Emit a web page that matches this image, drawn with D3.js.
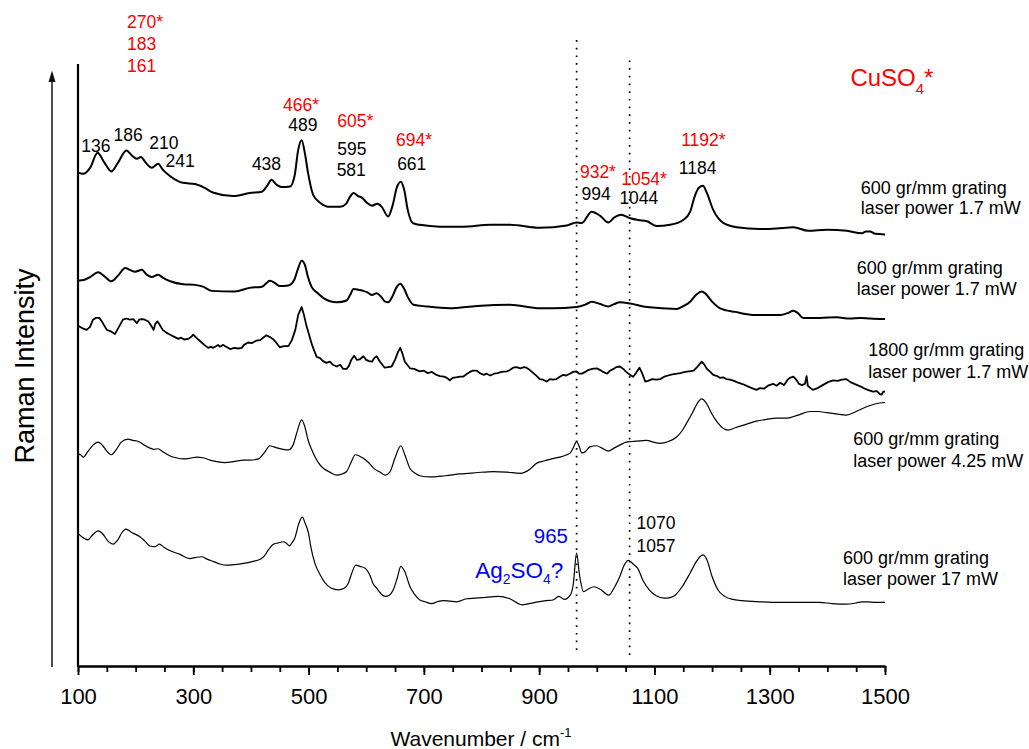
<!DOCTYPE html>
<html>
<head>
<meta charset="utf-8">
<script src="https://cdn.jsdelivr.net/npm/d3@7"></script>
<style>
  html, body { margin: 0; padding: 0; background: #fff; }
  svg { display: block; font-family: "Liberation Sans", Arial, Helvetica, sans-serif; }
</style>
</head>
<body>
<svg id="chart" width="1029" height="749"></svg>
<script>
// Raman spectra (stacked, arbitrary intensity units), [wavenumber cm-1, intensity]
const spectrumA = [ // 600 gr/mm, 1.7 mW
  [100,82.2],[109,82.0],[121,83.0],[134,85.5],[145,84.0],[158,82.4],[169,83.8],[184,85.9],[194,85.0],
  [202,84.5],[209,84.8],[218,83.8],[228,83.0],[239,83.7],[247,82.7],[260,81.6],[282,80.5],[303,80.3],
  [319,79.7],[334,78.9],[369,78.3],[398,78.8],[419,79.0],[428,80.0],[436,81.0],[443,80.3],[453,79.8],
  [468,79.9],[476,81.8],[482,86.0],[488,87.6],[494,85.2],[499,82.2],[508,78.5],[520,77.2],[537,76.5],
  [555,76.5],[565,77.0],[572,78.2],[578,78.8],[586,78.3],[593,78.0],[601,77.2],[610,76.7],[619,77.0],
  [627,76.5],[638,74.9],[646,76.8],[653,79.7],[660,80.7],[666,79.3],[672,76.0],[681,73.8],[693,73.5],
  [728,73.2],[768,73.2],[815,73.5],[849,73.5],[901,73.0],[948,73.4],[965,73.9],[974,73.8],[991,75.7],
  [1006,75.0],[1020,73.9],[1030,74.7],[1042,75.2],[1058,74.6],[1072,74.3],[1087,74.1],[1104,73.3],
  [1127,73.5],[1150,74.3],[1162,75.7],[1170,78.3],[1177,79.7],[1184,80.0],[1191,78.8],[1202,76.0],
  [1220,73.8],[1243,73.1],[1283,72.8],[1312,72.9],[1341,73.1],[1367,72.5],[1399,72.7],[1434,72.5],
  [1460,72.1],[1467,72.4],[1474,72.4],[1483,72.0],[1500,71.9]
];
const spectrumB = [ // 600 gr/mm, 1.7 mW
  [100,64.2],[110,64.3],[121,64.8],[135,65.6],[145,65.0],[158,64.1],[169,65.0],[182,66.3],[190,66.0],
  [199,65.7],[211,66.0],[218,65.3],[228,64.8],[239,65.2],[247,64.7],[260,64.1],[283,63.6],[303,63.5],
  [317,63.2],[332,62.5],[372,62.4],[398,63.0],[419,63.2],[433,64.2],[442,63.8],[450,63.3],[465,63.4],
  [475,64.3],[482,66.3],[488,67.5],[494,66.7],[499,64.8],[505,63.2],[515,62.2],[526,61.3],[549,60.6],
  [566,60.9],[572,61.8],[578,62.8],[586,62.7],[595,62.5],[603,62.2],[610,61.8],[618,62.1],[626,61.5],
  [633,60.7],[638,60.6],[646,61.7],[652,63.0],[659,63.7],[666,62.8],[672,61.5],[682,60.2],[705,59.9],
  [745,59.6],[792,60.0],[849,60.2],[901,59.6],[924,59.6],[965,59.8],[980,60.2],[991,60.7],[1006,60.3],
  [1020,59.9],[1030,60.3],[1040,60.6],[1058,60.4],[1087,59.8],[1139,59.5],[1151,60.0],[1162,60.7],
  [1172,61.8],[1182,62.4],[1189,62.0],[1200,60.7],[1214,59.6],[1240,59.0],[1271,58.5],[1318,58.5],
  [1331,58.8],[1341,59.2],[1349,58.8],[1358,58.0],[1387,58.0],[1416,58.1],[1439,57.9],[1457,58.0],
  [1474,57.9],[1500,57.8]
];
const spectrumC = [ // 1800 gr/mm, 1.7 mW
  [100,56.7],[107,56.3],[115,56.0],[121,56.5],[126,57.7],[131,58.0],[137,58.0],[142,57.3],[150,56.0],
  [156,55.8],[164,55.3],[171,56.5],[178,57.7],[184,57.9],[190,57.7],[196,57.8],[202,57.1],[206,57.7],
  [211,57.8],[216,57.7],[222,57.4],[227,56.7],[231,56.0],[234,57.0],[238,57.4],[242,56.8],[247,56.0],
  [254,55.5],[260,55.2],[268,54.8],[274,54.5],[279,54.7],[284,54.4],[291,54.5],[296,54.8],[300,55.2],
  [305,54.7],[312,54.1],[319,53.5],[326,53.0],[331,53.2],[334,53.0],[338,53.2],[343,53.5],[346,53.2],
  [352,53.5],[357,53.2],[364,52.8],[371,53.0],[378,52.9],[384,53.0],[388,53.5],[395,53.9],[402,53.8],
  [409,54.2],[416,54.3],[421,54.7],[427,55.1],[433,54.8],[438,54.5],[442,54.1],[450,53.1],[457,53.3],
  [465,53.3],[471,54.3],[477,56.0],[482,58.5],[488,59.8],[492,58.5],[496,56.8],[500,55.5],[506,53.5],
  [514,51.5],[520,51.3],[525,50.8],[531,50.5],[537,50.7],[542,50.2],[549,49.9],[555,50.2],[560,49.5],
  [566,49.5],[570,50.0],[574,51.0],[579,51.7],[584,51.0],[589,51.1],[595,51.6],[600,51.0],[605,50.8],
  [610,50.7],[614,51.3],[618,51.6],[624,50.7],[632,49.7],[638,49.8],[644,49.9],[650,51.0],[655,52.3],
  [659,53.0],[662,52.3],[667,50.7],[676,49.6],[683,49.5],[688,49.3],[693,49.1],[700,49.2],[707,48.8],
  [714,49.0],[722,48.5],[728,48.3],[735,48.2],[740,48.0],[745,47.6],[750,48.0],[756,48.1],[763,48.2],
  [768,48.2],[775,48.7],[780,49.0],[785,49.2],[792,49.2],[797,48.8],[804,48.5],[809,48.7],[815,48.4],
  [822,48.7],[828,48.8],[835,49.0],[844,49.1],[849,49.3],[855,49.7],[861,49.8],[867,49.6],[874,49.8],
  [878,49.7],[884,49.3],[890,48.8],[896,48.3],[901,47.8],[907,47.7],[913,47.4],[919,47.8],[924,47.7],
  [930,47.8],[936,48.2],[941,48.5],[947,48.4],[953,48.7],[959,49.0],[965,49.1],[969,48.7],[974,48.7],
  [980,49.0],[985,49.3],[992,49.5],[1000,49.6],[1006,49.3],[1011,49.0],[1018,48.7],[1023,49.2],
  [1029,49.5],[1034,49.8],[1040,49.9],[1046,49.5],[1051,49.0],[1058,48.5],[1063,48.2],[1068,48.8],
  [1074,49.7],[1079,48.7],[1084,47.4],[1089,47.5],[1096,47.8],[1103,47.7],[1110,47.8],[1117,48.2],
  [1124,48.4],[1131,48.6],[1139,48.7],[1145,48.8],[1153,49.0],[1160,49.1],[1168,49.2],[1174,49.8],
  [1182,50.7],[1186,50.3],[1191,49.5],[1197,49.0],[1202,48.5],[1209,48.3],[1214,48.0],[1219,48.1],
  [1225,47.8],[1231,47.7],[1238,47.5],[1243,47.3],[1249,47.1],[1255,46.9],[1262,46.6],[1269,46.3],
  [1277,46.0],[1283,46.3],[1290,46.2],[1297,46.7],[1306,47.0],[1312,46.7],[1318,47.2],[1325,46.8],
  [1331,47.7],[1335,48.0],[1341,48.2],[1346,47.7],[1351,47.0],[1356,46.8],[1361,47.0],[1364,48.3],
  [1366,46.7],[1371,46.3],[1375,46.0],[1383,46.3],[1392,46.8],[1401,47.3],[1410,47.6],[1418,47.5],
  [1425,47.7],[1433,47.8],[1440,47.3],[1447,47.0],[1457,46.6],[1463,46.3],[1470,46.0],[1479,45.7],
  [1486,45.8],[1491,45.3],[1494,45.2],[1497,45.7],[1500,45.7]
];
const spectrumD = [ // 600 gr/mm, 4.25 mW
  [100,35.0],[103,35.3],[109,34.8],[117,35.7],[126,36.8],[135,37.3],[143,36.7],[150,35.8],[158,35.2],
  [166,36.0],[175,37.3],[187,37.8],[195,37.6],[205,37.4],[215,36.8],[225,36.3],[232,36.1],[239,36.2],
  [247,35.7],[260,35.0],[270,34.7],[283,34.5],[294,34.6],[306,34.8],[317,34.7],[329,34.3],[343,34.0],
  [355,33.9],[372,34.1],[387,34.3],[398,34.3],[413,34.5],[423,35.5],[433,36.7],[440,36.5],[447,36.3],
  [456,36.1],[465,36.0],[473,36.8],[480,39.0],[488,41.0],[494,39.7],[499,37.7],[508,35.5],[516,34.0],
  [526,32.9],[537,32.3],[549,31.8],[558,32.0],[566,32.4],[574,34.0],[581,35.2],[588,35.0],[595,34.6],
  [603,34.0],[615,32.8],[624,32.3],[633,31.8],[641,32.3],[650,34.7],[660,36.7],[667,35.2],[676,32.9],
  [685,32.1],[693,31.7],[711,31.5],[737,31.7],[763,32.0],[790,32.2],[820,32.4],[844,32.3],[867,32.1],
  [884,32.8],[896,33.8],[910,34.2],[925,34.6],[936,34.8],[948,35.2],[954,35.5],[959,36.3],[965,37.4],
  [969,36.7],[974,35.5],[980,35.7],[988,36.5],[1000,36.7],[1009,36.3],[1020,35.8],[1030,36.3],
  [1040,36.8],[1051,37.3],[1061,37.4],[1075,37.5],[1087,37.6],[1098,37.3],[1110,37.1],[1124,37.4],
  [1139,38.2],[1148,39.2],[1156,40.5],[1166,42.2],[1174,43.7],[1182,44.5],[1190,43.8],[1199,42.1],
  [1210,40.5],[1219,39.6],[1228,39.3],[1240,39.7],[1260,40.3],[1277,40.8],[1295,41.1],[1311,41.3],
  [1330,41.3],[1349,41.8],[1370,42.4],[1384,42.4],[1399,42.2],[1415,42.0],[1433,41.8],[1450,42.4],
  [1468,43.2],[1484,43.7],[1500,43.9]
];
const spectrumE = [ // 600 gr/mm, 17 mW
  [100,22.1],[107,21.5],[117,21.0],[124,21.7],[135,22.5],[143,22.0],[152,20.8],[161,20.3],[169,21.0],
  [176,22.2],[183,22.8],[194,22.2],[208,21.5],[216,20.8],[225,20.0],[234,19.9],[241,20.3],[249,19.8],
  [260,19.2],[277,18.6],[294,17.9],[305,18.1],[315,18.2],[324,17.8],[335,17.4],[346,17.0],[358,16.8],
  [372,16.9],[387,17.1],[402,17.4],[416,17.8],[423,18.3],[430,19.3],[439,20.3],[447,20.5],[456,20.7],
  [461,20.5],[467,20.0],[471,20.5],[476,21.3],[483,23.7],[489,24.8],[494,23.8],[500,22.1],[504,19.8],
  [511,17.1],[520,15.2],[529,13.8],[539,13.0],[552,12.7],[561,12.9],[569,13.8],[575,15.5],[582,16.8],
  [589,16.6],[598,16.3],[607,15.0],[612,13.7],[618,13.0],[626,12.0],[633,11.6],[640,11.8],[647,12.7],
  [654,14.7],[660,16.6],[667,15.7],[676,13.2],[685,11.8],[693,11.0],[702,10.7],[714,10.4],[723,10.7],
  [734,10.9],[745,10.8],[757,10.7],[774,11.2],[790,11.3],[803,11.4],[829,11.6],[849,11.2],[870,10.2],
  [893,10.6],[912,10.9],[924,11.0],[934,11.6],[944,11.1],[954,11.8],[959,13.5],[965,18.8],[970,15.2],
  [977,12.4],[985,12.8],[995,13.2],[1006,12.8],[1021,11.8],[1030,13.0],[1040,14.9],[1047,16.7],
  [1055,17.6],[1063,17.0],[1072,16.1],[1080,14.3],[1091,12.7],[1103,11.7],[1117,11.3],[1127,11.4],
  [1136,11.8],[1148,13.2],[1162,15.5],[1172,17.3],[1179,18.2],[1184,18.5],[1191,17.7],[1200,14.9],
  [1210,12.7],[1222,11.6],[1236,11.1],[1251,10.9],[1283,10.7],[1321,10.6],[1353,10.6],[1386,10.6],
  [1408,10.4],[1430,10.3],[1450,10.5],[1460,10.7],[1469,10.7],[1483,10.6],[1500,10.6]
];

// Reference band positions (dotted guides), cm-1
const guideBands = [965, 1057];

// Axis ticks
const xMinorTicks = d3.range(100, 1501, 50);
const xMajorTicks = [100, 300, 500, 700, 900, 1100, 1300, 1500];

// Spectrum captions: [line 1, line 2]
const captions = [
  ["600 gr/mm grating", "laser power 1.7 mW"],
  ["600 gr/mm grating", "laser power 1.7 mW"],
  ["1800 gr/mm grating", "laser power 1.7 mW"],
  ["600 gr/mm grating", "laser power 4.25 mW"],
  ["600 gr/mm grating", "laser power 17 mW"]
];

// Band assignments
const cuso4Bands = ["270*", "183", "161"];
const peakTexts = ["136", "186", "210", "241", "438", "466*", "489", "605*", "595", "581",
                   "694*", "661", "932*", "994", "1054*", "1044", "1192*", "1184"];

// ---------------------------------------------------------------------------
const svg = d3.select("#chart");
const x = d3.scaleLinear().domain([100, 1500]).range([78, 885]);
const y = d3.scaleLinear().domain([0, 100.3]).range([666, 64]);

const RED = "#ff0000", BLUE = "#0000ff";

// Dotted guide lines
svg.append("g").selectAll("line").data(guideBands).join("line")
  .attr("x1", d => x(d)).attr("x2", d => x(d))
  .attr("y1", (d, i) => y(i === 0 ? 104.3 : 100.9))
  .attr("y2", y(1.8))
  .attr("stroke", "#000").attr("stroke-width", 1.7)
  .attr("stroke-dasharray", "1.7,6");

// Spectra
const spectra = [
  { data: spectrumA, w: 2.0, curve: d3.curveMonotoneX },
  { data: spectrumB, w: 2.0, curve: d3.curveMonotoneX },
  { data: spectrumC, w: 1.8, curve: d3.curveLinear },
  { data: spectrumD, w: 1.2, curve: d3.curveMonotoneX },
  { data: spectrumE, w: 1.2, curve: d3.curveMonotoneX }
];
svg.append("g").selectAll("path").data(spectra).join("path")
  .attr("fill", "none").attr("stroke", "#000")
  .attr("stroke-width", d => d.w)
  .attr("stroke-linejoin", "round")
  .attr("d", d => d3.line().x(p => x(p[0])).y(p => y(p[1])).curve(d.curve)(d.data));

// Axes
const gx = svg.append("g").attr("transform", `translate(0,${y(0)})`);
gx.call(d3.axisBottom(x).tickValues(xMinorTicks).tickSize(6).tickSizeOuter(0).tickFormat(""));
const gxMaj = svg.append("g").attr("transform", `translate(0,${y(0)})`)
  .call(d3.axisBottom(x).tickValues(xMajorTicks).tickSize(9).tickSizeOuter(0).tickPadding(13).tickFormat(d3.format("d")));
[gx, gxMaj].forEach(g => {
  g.select(".domain").attr("stroke", "#000").attr("stroke-width", 2);
  g.selectAll(".tick line").attr("stroke", "#000").attr("stroke-width", 1.8);
});
gxMaj.selectAll(".tick text")
  .attr("font-size", 22).attr("fill", "#000")
  .attr("font-family", "'Liberation Sans', Arial, sans-serif");

// Left spine
svg.append("line")
  .attr("x1", x(100)).attr("x2", x(100))
  .attr("y1", y(0) + 1).attr("y2", y(100.3))
  .attr("stroke", "#000").attr("stroke-width", 2.2);

// Intensity arrow
svg.append("line")
  .attr("x1", 52).attr("x2", 52).attr("y1", 667).attr("y2", 80)
  .attr("stroke", "#222").attr("stroke-width", 1.6);
svg.append("path")
  .attr("d", "M52,70.5 L48.5,82 L55.5,82 Z").attr("fill", "#111");

// Axis titles
const xt = svg.append("text").attr("x", 481).attr("y", 746)
  .attr("text-anchor", "middle").attr("font-size", 21).attr("fill", "#000");
xt.append("tspan").text("Wavenumber / cm");
xt.append("tspan").text("-1").attr("font-size", 13).attr("dy", -9);

svg.append("text")
  .attr("transform", "translate(34,366) rotate(-90)")
  .attr("text-anchor", "middle").attr("font-size", 27).attr("fill", "#000")
  .text("Raman Intensity");

// CuSO4 band list (left, stacked)
const cuLayout = [106.3, 102.6, 98.9];
svg.append("g").selectAll("text").data(cuso4Bands).join("text")
  .attr("x", x(185)).attr("y", (d, i) => y(cuLayout[i]))
  .attr("font-size", 17.5).attr("fill", RED).text(d => d);

// Peak labels on the top spectrum: [wn centre, intensity baseline]
const peakLayout = [
  [131, 85.7], [187, 87.4], [249, 86.2], [277, 83.2], [427, 82.6], [487, 92.4], [490, 89.2],
  [581, 89.8], [575, 85.2], [574, 81.7], [683, 86.7], [679, 82.6], [1002, 81.3], [999, 77.6],
  [1082, 80.2], [1073, 77.0], [1185, 86.6], [1175, 82.0]
];
svg.append("g").selectAll("text").data(peakTexts).join("text")
  .attr("x", (d, i) => x(peakLayout[i][0])).attr("y", (d, i) => y(peakLayout[i][1]))
  .attr("text-anchor", "middle").attr("font-size", 17.5)
  .attr("fill", d => d.endsWith("*") ? RED : "#000")
  .text(d => d);

// CuSO4* legend
const cu = svg.append("text").attr("x", x(1440)).attr("y", y(96.6))
  .attr("font-size", 24).attr("fill", RED);
cu.append("tspan").text("CuSO");
cu.append("tspan").text("4").attr("font-size", 15).attr("dy", 8);
cu.append("tspan").text("*").attr("dy", -8);

// Ag2SO4 band
svg.append("text").attr("x", x(950)).attr("y", y(20.5))
  .attr("text-anchor", "end").attr("font-size", 20.5).attr("fill", BLUE).text("965");
const ag = svg.append("text").attr("x", x(789)).attr("y", y(14.7))
  .attr("font-size", 22.5).attr("fill", BLUE);
ag.append("tspan").text("Ag");
ag.append("tspan").text("2").attr("font-size", 14).attr("dy", 6);
ag.append("tspan").text("SO").attr("dy", -6);
ag.append("tspan").text("4").attr("font-size", 14).attr("dy", 6);
ag.append("tspan").text("?").attr("dy", -6);

// Labels of the bottom spectrum
[["1070", 22.8], ["1057", 19.0]].forEach(([t, v]) => {
  svg.append("text").attr("x", x(1069)).attr("y", y(v))
    .attr("font-size", 17.5).attr("fill", "#000").text(t);
});

// Captions beside each spectrum: [wn left, line 1 baseline, line 2 baseline]
const captionLayout = [
  [1458, 78.7, 75.3], [1451, 65.3, 61.8], [1471, 51.6, 48.0], [1445, 36.8, 33.2], [1427, 17.0, 13.5]
];
const capG = svg.append("g");
captions.forEach((lines, i) => {
  const [wn, v1, v2] = captionLayout[i];
  capG.append("text").attr("x", x(wn)).attr("y", y(v1))
    .attr("font-size", 18).attr("fill", "#000").text(lines[0]);
  capG.append("text").attr("x", x(wn)).attr("y", y(v2))
    .attr("font-size", 18).attr("fill", "#000").text(lines[1]);
});
</script>
</body>
</html>
